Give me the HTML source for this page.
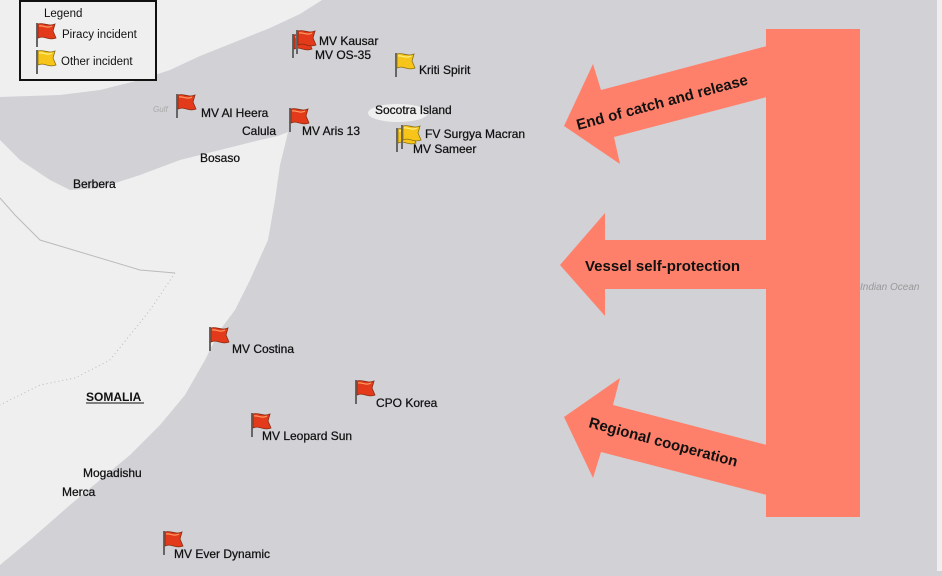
<!DOCTYPE html>
<html><head><meta charset="utf-8"><style>
html,body{margin:0;padding:0;}
body{width:942px;height:571px;overflow:hidden;background:#d1d1d6;font-family:"Liberation Sans",sans-serif;}
</style></head><body>
<svg width="942" height="571" viewBox="0 0 942 571" xmlns="http://www.w3.org/2000/svg" font-family="Liberation Sans, sans-serif">
<defs>
<g id="fr">
<line x1="1" y1="0" x2="1" y2="24" stroke="#666" stroke-width="2"/>
<path d="M2,1 C7,-1 12,4 19,1 L17,8 L20,15 C13,18 8,12 2,15 Z" fill="#e23a1a" stroke="#8a2a10" stroke-width="0.8"/>
<path d="M3,3 C7,2 11,6 16,3" fill="none" stroke="#ff9a60" stroke-width="1.2"/>
</g>
<g id="fy">
<line x1="1" y1="0" x2="1" y2="24" stroke="#666" stroke-width="2"/>
<path d="M2,1 C7,-1 12,4 19,1 L17,8 L20,15 C13,18 8,12 2,15 Z" fill="#f7c51a" stroke="#8a7010" stroke-width="0.8"/>
<path d="M3,3 C7,2 11,6 16,3" fill="none" stroke="#fff080" stroke-width="1.2"/>
</g>
</defs>
<rect width="942" height="571" fill="#d1d1d6"/>
<polygon points="0,0 322,0 300,14 270,28 240,40 200,56 170,70 140,80 100,90 60,95 0,97" fill="#efefef"/>
<polygon points="0,140 20,160 50,180 70,190 100,188 140,175 180,160 220,150 260,140 278,136 288,132 285,145 280,165 275,200 268,240 250,280 235,310 220,330 205,360 185,395 160,425 130,455 100,480 70,505 30,540 0,565" fill="#efefef"/>
<ellipse cx="398" cy="113" rx="30" ry="9" fill="#efefef"/>
<rect x="937" y="0" width="5" height="571" fill="#efefef"/>
<polyline points="0,198 15,215 40,240 140,270 175,273" fill="none" stroke="#bbb" stroke-width="1"/>
<polyline points="175,273 150,310 110,360 75,378 40,385 0,405" fill="none" stroke="#bbb" stroke-width="1" stroke-dasharray="1,3"/>
<rect x="20" y="1" width="136" height="79" fill="#efefef" stroke="#111" stroke-width="2"/>
<text x="44" y="17" font-size="11.5" fill="#111">Legend</text>
<use href="#fr" x="36" y="23"/>
<text x="62" y="38" font-size="11.5" fill="#111">Piracy incident</text>
<use href="#fy" x="36" y="50"/>
<text x="61" y="65" font-size="11.5" fill="#111">Other incident</text>
<use href="#fr" x="292" y="34"/><use href="#fr" x="296" y="30"/>
<use href="#fy" x="395" y="53"/>
<use href="#fr" x="176" y="94"/>
<use href="#fr" x="289" y="108"/>
<use href="#fy" x="396" y="128"/><use href="#fy" x="401" y="125"/>
<use href="#fr" x="209" y="327"/>
<use href="#fr" x="355" y="380"/>
<use href="#fr" x="251" y="413"/>
<use href="#fr" x="163" y="531"/>
<g font-size="12" fill="#111" stroke="#111" stroke-width="0.25">
<text x="319" y="45">MV Kausar</text>
<text x="315" y="59">MV OS-35</text>
<text x="419" y="74">Kriti Spirit</text>
<text x="201" y="117">MV Al Heera</text>
<text x="302" y="135">MV Aris 13</text>
<text x="425" y="138">FV Surgya Macran</text>
<text x="413" y="153">MV Sameer</text>
<text x="232" y="353">MV Costina</text>
<text x="376" y="407">CPO Korea</text>
<text x="262" y="440">MV Leopard Sun</text>
<text x="174" y="558">MV Ever Dynamic</text>
<text x="375" y="114">Socotra Island</text>
<text x="242" y="135">Calula</text>
<text x="200" y="162">Bosaso</text>
<text x="73" y="188">Berbera</text>
<text x="83" y="477">Mogadishu</text>
<text x="62" y="496">Merca</text>
</g>
<text x="86" y="401" font-size="12" font-weight="bold" fill="#111">SOMALIA</text>
<line x1="86" y1="403" x2="144" y2="403" stroke="#111" stroke-width="1"/>
<text x="860" y="290" font-size="10" font-style="italic" fill="#999">Indian Ocean</text>
<text x="153" y="112" font-size="8" font-style="italic" fill="#aaa">Gulf</text>
<g fill="#ff806a">
<rect x="766" y="29" width="94" height="488"/>
<polygon points="767,46 601,90 593,64 564,126 620,164 614,137 767,97"/>
<polygon points="767,240 605,240 605,213 560,265 605,316 605,289 767,289"/>
<polygon points="767,445 613,405 620,378 564,417 593,478 601,452 767,495"/>
</g>
<g font-size="15" font-weight="bold" fill="#111">
<text transform="translate(578,130) rotate(-15)">End of catch and release</text>
<text x="585" y="271">Vessel self-protection</text>
<text transform="translate(588,427) rotate(15)">Regional cooperation</text>
</g>
</svg>
</body></html>
